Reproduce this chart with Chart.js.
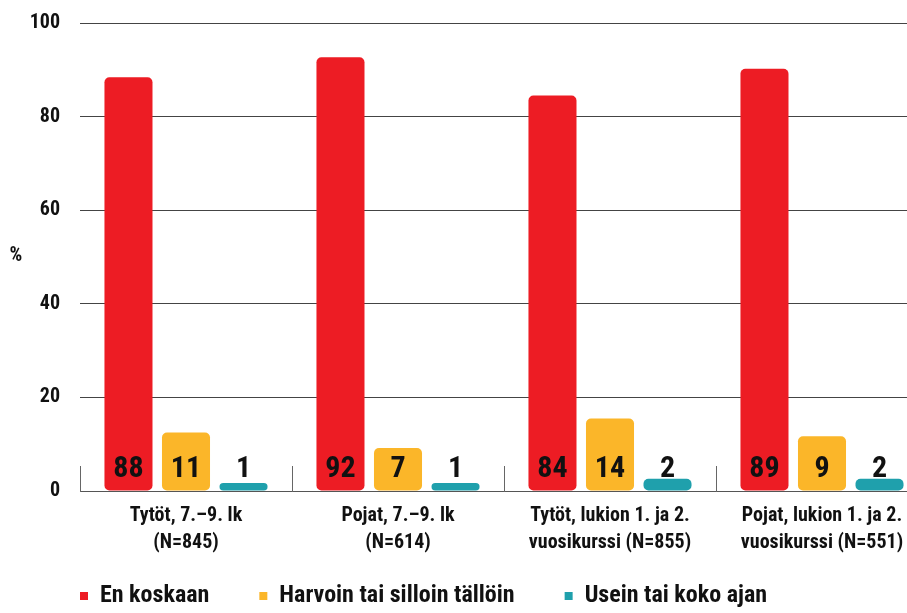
<!DOCTYPE html>
<html>
<head>
<meta charset="utf-8">
<script src="https://cdn.jsdelivr.net/npm/chart.js@4"></script>
<style>
  html, body { margin: 0; padding: 0; background: #fff; overflow: hidden; }
  #wrap { width: 928px; height: 613px; }
</style>
</head>
<body>
<div id="wrap"><canvas id="chart"></canvas></div>
<script>
// groups on the x axis
const categories = [
    ['Tytöt, 7.–9. lk', '(N=845)'],
    ['Pojat, 7.–9. lk', '(N=614)'],
    ['Tytöt, lukion 1. ja 2.', 'vuosikurssi (N=855)'],
    ['Pojat, lukion 1. ja 2.', 'vuosikurssi (N=551)']
];
const seriesNames = ['En koskaan', 'Harvoin tai silloin tällöin', 'Usein tai koko ajan'];

// bar heights as drawn in the picture (%)
const neverBars = [88.4, 92.7, 84.5, 90.2];
const rarelyBars = [12.5, 9.2, 15.5, 11.7];
const oftenBars = [1.7, 1.7, 2.6, 2.6];

// numbers printed on the bars
const neverLabels = [88, 92, 84, 89];
const rarelyLabels = [11, 7, 14, 9];
const oftenLabels = [1, 1, 2, 2];

const yTicks = [0, 20, 40, 60, 80, 100];

const colors = ['#ED1C24', '#FBB629', '#1FA0AC'];
const FONT = '"Roboto Condensed", "Open Sans Condensed", sans-serif';

// value labels near the bottom of each bar + "%" title + short separators between groups
const extras = {
    id: 'extras',
    beforeInit(chart) {
        // keep the wide gaps between legend items but not the tall box
        const fit = chart.legend.fit;
        chart.legend.fit = function () {
            fit.call(this);
            this.height = 56;
        };
    },
    afterLayout(chart) {
        chart.legend.top -= 23;
    },
    afterDatasetsDraw(chart) {
        const ctx = chart.ctx;
        const x = chart.scales.x;
        const y = chart.scales.y;
        const base = y.getPixelForValue(0);
        ctx.save();
        ctx.fillStyle = '#111';
        ctx.font = 'bold 30px ' + FONT;
        ctx.textAlign = 'center';
        ctx.textBaseline = 'middle';
        chart.data.datasets.forEach((ds, i) => {
            chart.getDatasetMeta(i).data.forEach((bar, j) => {
                ctx.fillText(String(ds.printed[j]), bar.x, base - 22);
            });
        });
        // "%" axis title
        ctx.font = 'bold 20px ' + FONT;
        ctx.fillText('%', 16, 256);
        ctx.strokeStyle = '#666';
        ctx.lineWidth = 1;
        const w = (x.right - x.left) / categories.length;
        for (let i = 0; i < categories.length; i++) {
            const px = Math.round(x.left + i * w) + 0.5;
            ctx.beginPath();
            ctx.moveTo(px, base - 25);
            ctx.lineTo(px, base + 1);
            ctx.stroke();
        }
        ctx.restore();
    }
};

function makeSet(i, values, printed) {
    return {
        label: seriesNames[i],
        data: values,
        printed: printed,
        backgroundColor: colors[i],
        borderRadius: 5,
        borderSkipped: false,
        categoryPercentage: 0.814,
        barPercentage: 0.835
    };
}

new Chart(document.getElementById('chart'), {
    type: 'bar',
    data: {
        labels: categories,
        datasets: [
            makeSet(0, neverBars, neverLabels),
            makeSet(1, rarelyBars, rarelyLabels),
            makeSet(2, oftenBars, oftenLabels)
        ]
    },
    options: {
        responsive: true,
        maintainAspectRatio: false,
        animation: false,
        layout: { padding: { left: 30, top: 23, bottom: 0, right: 0 } },
        scales: {
            x: {
                afterFit(axis) { axis.height = 66; },
                grid: { display: false },
                border: { display: true, color: '#555' },
                ticks: {
                    color: '#111',
                    font: { family: FONT, size: 20, weight: 'bold', lineHeight: 1.35 },
                    padding: 3,
                    maxRotation: 0,
                    autoSkip: false
                }
            },
            y: {
                min: 0,
                max: 100,
                afterBuildTicks(axis) { axis.ticks = yTicks.map(v => ({ value: v })); },
                afterFit(axis) {
                    axis.width = 50;
                    axis.paddingTop = 0;
                    axis.paddingBottom = 0;
                },
                grid: { color: '#444', drawTicks: false },
                border: { display: false },
                ticks: {
                    color: '#111',
                    font: { family: FONT, size: 20, weight: 'bold' },
                    padding: 20
                }
            }
        },
        plugins: {
            legend: {
                position: 'bottom',
                align: 'start',
                labels: {
                    color: '#111',
                    font: { family: FONT, size: 24, weight: 'bold' },
                    boxWidth: 8,
                    boxHeight: 8,
                    padding: 50
                }
            },
            tooltip: { enabled: false }
        }
    },
    plugins: [extras]
});
</script>
</body>
</html>
